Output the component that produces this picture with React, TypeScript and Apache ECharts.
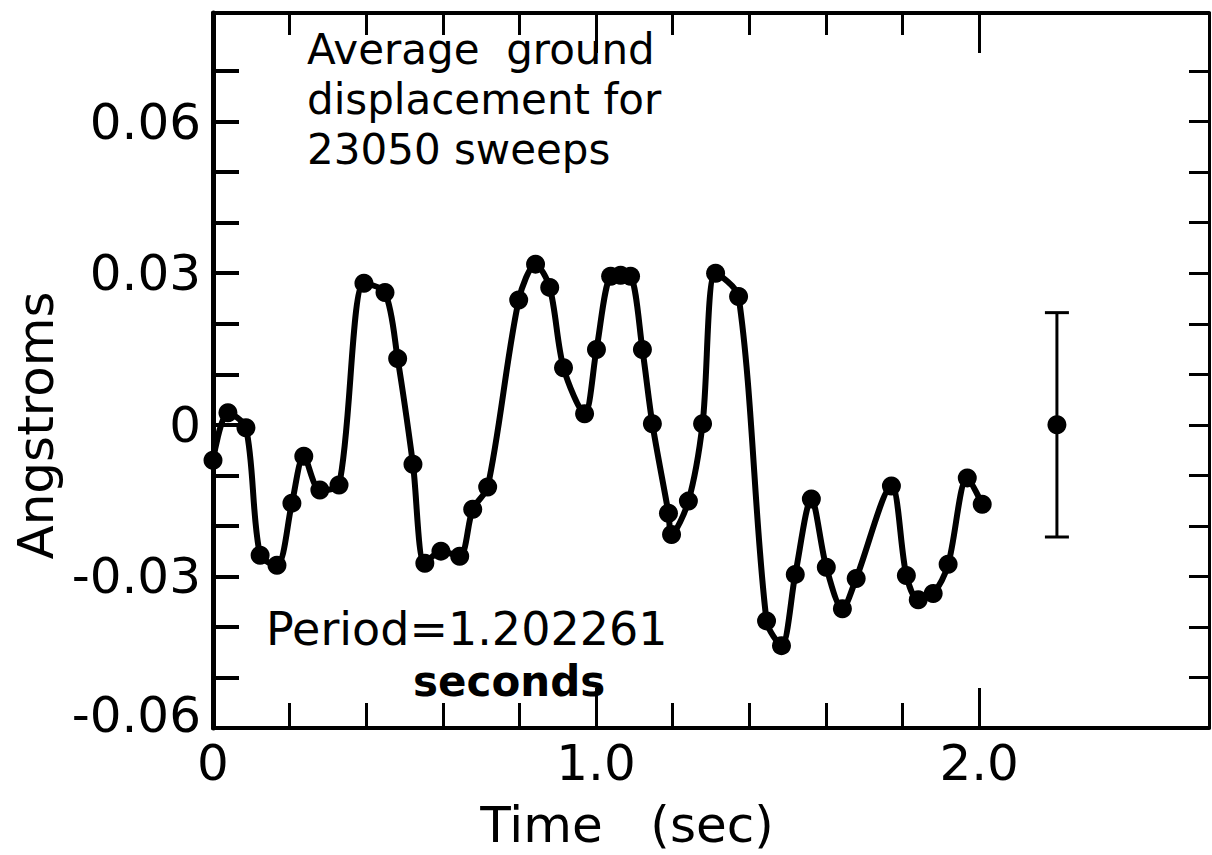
import React, { useEffect, useRef } from "react";
import * as echarts from "echarts";

// ---- data ----
const times = [
  0.0, 0.039, 0.086, 0.123, 0.167, 0.206, 0.237, 0.279, 0.329, 0.394,
  0.449, 0.482, 0.522, 0.553, 0.595, 0.644, 0.678, 0.717, 0.798, 0.842,
  0.879, 0.915, 0.97, 1.001, 1.038, 1.064, 1.09, 1.121, 1.147, 1.189,
  1.197, 1.241, 1.278, 1.312, 1.372, 1.445, 1.484, 1.52, 1.562, 1.601,
  1.643, 1.679, 1.771, 1.81, 1.841, 1.88, 1.919, 1.969, 2.008,
];
const displacement = [
  -0.007, 0.0024, -0.0006, -0.0258, -0.0278, -0.0155, -0.0062, -0.0129, -0.0119, 0.028,
  0.0262, 0.0131, -0.0078, -0.0274, -0.025, -0.026, -0.0167, -0.0123, 0.0247, 0.0318,
  0.0272, 0.0113, 0.0022, 0.0149, 0.0294, 0.0296, 0.0294, 0.0149, 0.0002, -0.0175,
  -0.0217, -0.0151, 0.0002, 0.03, 0.0254, -0.0388, -0.0437, -0.0296, -0.0147, -0.0282,
  -0.0364, -0.0304, -0.0121, -0.0298, -0.0346, -0.0334, -0.0276, -0.0105, -0.0157,
];
const errTime = [2.203];
const errCenter = [0];
const errHalf = [0.0222];

const yLabelValues = [-0.06, -0.03, 0, 0.03, 0.06];
const yLabelTexts = ["-0.06", "-0.03", "0", "0.03", "0.06"];
const yMinorTicks = [-0.05, -0.04, -0.03, -0.02, -0.01, 0, 0.01, 0.02, 0.03, 0.04, 0.05, 0.06, 0.07];
const xLabelValues = [0, 1, 2];
const xLabelTexts = ["0", "1.0", "2.0"];
const xMinorTicks = [0.2, 0.4, 0.6, 0.8, 1.2, 1.4, 1.6, 1.8];
const xMajorTicks = [1.0, 2.0];

const X_MIN = 0;
const X_MAX = 2.6;
const Y_MIN = -0.06;
const Y_MAX = 0.0815;

const FONT = "DejaVu Sans";

export default function App() {
  const ref = useRef<HTMLDivElement>(null);

  useEffect(() => {
    if (!ref.current) return;
    const chart = echarts.init(ref.current, undefined, { renderer: "svg" });

    const lineData = times.map((t, i) => [t, displacement[i]]);
    const errData = errTime.map((t, i) => [t, errCenter[i], errCenter[i] - errHalf[i], errCenter[i] + errHalf[i]]);

    const gridRect = { left: 213, top: 13, right: 3, bottom: 127, containLabel: false };

    const yLabelFmt = (v: number) => {
      const idx = yLabelValues.findIndex((lv) => Math.abs(lv - v) < 1e-6);
      if (idx < 0) return "";
      if (idx === 0) return "{lo|" + yLabelTexts[idx] + "}";
      return yLabelTexts[idx];
    };
    const xLabelFmt = (v: number) => {
      const idx = xLabelValues.findIndex((lv) => Math.abs(lv - v) < 1e-6);
      return idx < 0 ? "" : xLabelTexts[idx];
    };

    const option: any = {
      animation: false,
      backgroundColor: "#ffffff",
      grid: [gridRect, gridRect],
      xAxis: [
        {
          type: "value", gridIndex: 0, position: "bottom", min: X_MIN, max: X_MAX,
          axisLine: { show: true, onZero: false, lineStyle: { color: "#000", width: 4 } },
          axisTick: { show: true, inside: true, length: 25, customValues: xMinorTicks, lineStyle: { color: "#000", width: 3 } },
          axisLabel: { show: true, customValues: xLabelValues, formatter: xLabelFmt, margin: 10, color: "#000", fontFamily: FONT, fontSize: 50 },
          splitLine: { show: false },
          name: "Time   (sec)", nameLocation: "middle", nameGap: 72,
          nameTextStyle: { color: "#000", fontFamily: FONT, fontSize: 50, padding: [0, 168, 0, 0] },
        },
        {
          type: "value", gridIndex: 0, position: "top", min: X_MIN, max: X_MAX,
          axisLine: { show: true, onZero: false, lineStyle: { color: "#000", width: 4 } },
          axisTick: { show: true, inside: true, length: 22, customValues: xMinorTicks, lineStyle: { color: "#000", width: 3 } },
          axisLabel: { show: false }, splitLine: { show: false },
        },
        {
          type: "value", gridIndex: 1, position: "bottom", min: X_MIN, max: X_MAX,
          axisLine: { show: false, onZero: false },
          axisTick: { show: true, inside: true, length: 40, customValues: xMajorTicks, lineStyle: { color: "#000", width: 3 } },
          axisLabel: { show: false }, splitLine: { show: false },
        },
        {
          type: "value", gridIndex: 1, position: "top", min: X_MIN, max: X_MAX,
          axisLine: { show: false, onZero: false },
          axisTick: { show: true, inside: true, length: 40, customValues: xMajorTicks, lineStyle: { color: "#000", width: 3 } },
          axisLabel: { show: false }, splitLine: { show: false },
        },
      ],
      yAxis: [
        {
          type: "value", gridIndex: 0, position: "left", min: Y_MIN, max: Y_MAX,
          axisLine: { show: true, onZero: false, lineStyle: { color: "#000", width: 5 } },
          axisTick: { show: true, inside: true, length: 26, customValues: yMinorTicks, lineStyle: { color: "#000", width: 4 } },
          axisLabel: {
            show: true, customValues: yLabelValues, formatter: yLabelFmt, margin: 12,
            color: "#000", fontFamily: FONT, fontSize: 50,
            rich: { lo: { fontFamily: FONT, fontSize: 50, color: "#000", padding: [0, 0, 26, 0] } },
          },
          splitLine: { show: false },
          name: "Angstroms", nameLocation: "middle", nameRotate: 90, nameGap: 150,
          nameTextStyle: { color: "#000", fontFamily: FONT, fontSize: 50, padding: [0, 110, 0, 0] },
        },
        {
          type: "value", gridIndex: 0, position: "right", min: Y_MIN, max: Y_MAX,
          axisLine: { show: true, onZero: false, lineStyle: { color: "#000", width: 3 } },
          axisTick: { show: true, inside: true, length: 20, customValues: yMinorTicks, lineStyle: { color: "#000", width: 3 } },
          axisLabel: { show: false }, splitLine: { show: false },
        },
        {
          type: "value", gridIndex: 1, min: Y_MIN, max: Y_MAX, show: false,
        },
      ],
      series: [
        {
          type: "line", xAxisIndex: 0, yAxisIndex: 0, data: lineData,
          smooth: 0.3, symbol: "circle", symbolSize: 19,
          itemStyle: { color: "#000" },
          lineStyle: { color: "#000", width: 6 },
          z: 3,
        },
        {
          type: "custom", xAxisIndex: 0, yAxisIndex: 0, data: errData,
          renderItem: (params: any, api: any) => {
            const x = api.value(0);
            const pC = api.coord([x, api.value(1)]);
            const pLo = api.coord([x, api.value(2)]);
            const pHi = api.coord([x, api.value(3)]);
            const cap = 12;
            const st = { stroke: "#000", lineWidth: 3 };
            return {
              type: "group",
              children: [
                { type: "line", shape: { x1: pLo[0], y1: pLo[1], x2: pHi[0], y2: pHi[1] }, style: st },
                { type: "line", shape: { x1: pLo[0] - cap, y1: pLo[1], x2: pLo[0] + cap, y2: pLo[1] }, style: st },
                { type: "line", shape: { x1: pHi[0] - cap, y1: pHi[1], x2: pHi[0] + cap, y2: pHi[1] }, style: st },
                { type: "circle", shape: { cx: pC[0], cy: pC[1], r: 9.5 }, style: { fill: "#000" } },
              ],
            };
          },
          z: 3,
        },
      ],
      graphic: [
        {
          type: "text", left: 307, top: 24,
          style: {
            text: "Average  ground\ndisplacement for\n23050 sweeps",
            fontFamily: FONT, fontSize: 42, lineHeight: 50, fill: "#000",
          },
        },
        {
          type: "text", left: 266, top: 606,
          style: { text: "Period=1.202261", fontFamily: FONT, fontSize: 46, fill: "#000" },
        },
        {
          type: "text", left: 413, top: 660,
          style: { text: "seconds", fontFamily: FONT, fontSize: 42, fontWeight: "bold", fill: "#000" },
        },
      ],
    };

    chart.setOption(option);
    return () => chart.dispose();
  }, []);

  return (
    <div
      ref={ref}
      style={{ position: "fixed", left: 0, top: 0, width: 1212, height: 855, background: "#fff" }}
    />
  );
}
